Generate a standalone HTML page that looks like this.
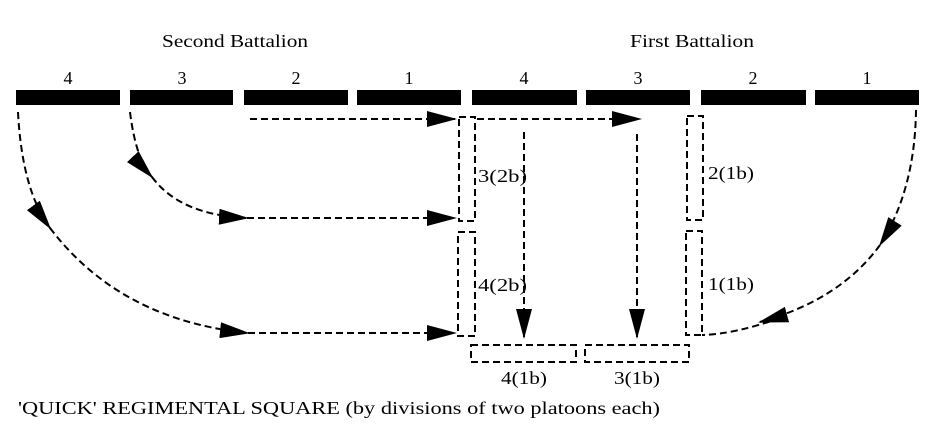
<!DOCTYPE html>
<html><head><style>
body{margin:0;background:#fff;}
svg{display:block;font-family:"Liberation Serif",serif;}
</style></head><body>
<svg width="947" height="429" viewBox="0 0 947 429" xmlns="http://www.w3.org/2000/svg">
<defs>
<marker id="a" markerWidth="30" markerHeight="16" refX="28" refY="8" orient="auto" markerUnits="userSpaceOnUse">
<path d="M0,0 L30,8 L0,16 z" fill="#000"/></marker>
</defs>
<g font-size="18" text-anchor="middle" fill="#000">
<text x="235" y="47" textLength="146" lengthAdjust="spacingAndGlyphs">Second Battalion</text>
<text x="692" y="47" textLength="124" lengthAdjust="spacingAndGlyphs">First Battalion</text>
<text x="68" y="84">4</text><text x="182" y="84">3</text><text x="296" y="84">2</text><text x="409" y="84">1</text>
<text x="524" y="84">4</text><text x="638" y="84">3</text><text x="753" y="84">2</text><text x="867" y="84">1</text>
</g>
<g fill="#000">
<rect x="16" y="90" width="104" height="15"/><rect x="130" y="90" width="103" height="15"/>
<rect x="244" y="90" width="104" height="15"/><rect x="357" y="90" width="104" height="15"/>
<rect x="472" y="90" width="105" height="15"/><rect x="586" y="90" width="104" height="15"/>
<rect x="701" y="90" width="105" height="15"/><rect x="815" y="90" width="104" height="15"/>
</g>
<g fill="none" stroke="#000" stroke-width="2" stroke-dasharray="7,4">
<rect x="459" y="117" width="16" height="104"/>
<rect x="458" y="232" width="17" height="104"/>
<rect x="687" y="116" width="16" height="104"/>
<rect x="686" y="231" width="16" height="104"/>
<rect x="471" y="345" width="105" height="17"/>
<rect x="585" y="345" width="104" height="17"/>
<line x1="250" y1="119" x2="455" y2="119" marker-end="url(#a)"/>
<line x1="477" y1="119" x2="640" y2="119" marker-end="url(#a)"/>
<line x1="524" y1="132" x2="524" y2="337" marker-end="url(#a)"/>
<line x1="637" y1="134" x2="637" y2="337" marker-end="url(#a)"/>
<path d="M130,112 Q136,160 152,177" marker-end="url(#a)"/>
<path d="M152,177 Q180,215 247,218" marker-end="url(#a)"/>
<line x1="247" y1="218" x2="455" y2="218" marker-end="url(#a)"/>
<path d="M18,112 Q22,190 50,228" marker-end="url(#a)"/>
<path d="M50,228 Q120,320 248,333" marker-end="url(#a)"/>
<line x1="248" y1="333" x2="455" y2="333" marker-end="url(#a)"/>
<path d="M916,110 Q915,190 880,245" marker-end="url(#a)"/>
<path d="M880,245 Q840,300 760,322" marker-end="url(#a)"/>
<path d="M780,318 Q735,334 702,335"/>
</g>
<g font-size="18" fill="#000">
<text x="478" y="182" textLength="49" lengthAdjust="spacingAndGlyphs">3(2b)</text>
<text x="478" y="291" textLength="49" lengthAdjust="spacingAndGlyphs">4(2b)</text>
<text x="708" y="179" textLength="46" lengthAdjust="spacingAndGlyphs">2(1b)</text>
<text x="708" y="290" textLength="46" lengthAdjust="spacingAndGlyphs">1(1b)</text>
<text x="501" y="384" textLength="46" lengthAdjust="spacingAndGlyphs">4(1b)</text>
<text x="614" y="384" textLength="46" lengthAdjust="spacingAndGlyphs">3(1b)</text>
<text x="18" y="414" textLength="642" lengthAdjust="spacingAndGlyphs">'QUICK' REGIMENTAL SQUARE (by divisions of two platoons each)</text>
</g>
</svg>
</body></html>
